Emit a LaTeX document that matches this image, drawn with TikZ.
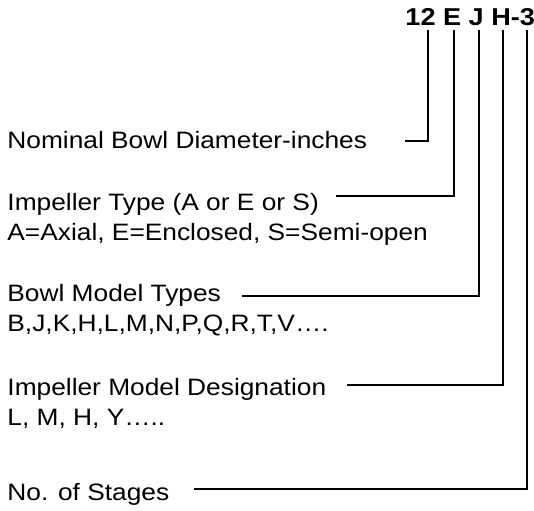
\documentclass[tikz,border=0pt]{standalone}
\usepackage{fontspec}
\setmainfont{Liberation Sans}
\tikzset{
  lbl/.style={anchor=base west, inner sep=0pt, xscale=1.11, font=\fontsize{11.85}{14}\selectfont},
  lead/.style={line width=0.9pt, line cap=rect}
}
\begin{document}
\begin{tikzpicture}[x=0.5pt, y=-0.5pt]
\useasboundingbox (0, 0) rectangle (534, 510);
% model code
\path (405, 25.5) node[lbl, font=\fontsize{12.2}{14}\selectfont\bfseries] (code) {12 E J H-3};
% descriptions
\path (7, 148.5)   node[lbl] (dia)  {Nominal Bowl Diameter-inches}
      (7, 210.7) node[lbl] (imp)  {Impeller Type (A or E or S)}
      (7, 240)   node[lbl] (impx) {A=Axial, E=Enclosed, S=Semi-open}
      (7, 301.7) node[lbl] (bowl) {Bowl Model Types}
      (7, 331.7) node[lbl] (bowlx) {B,J,K,H,L,M,N,P,Q,R,T,V….}
      (7, 395)   node[lbl] (des)  {Impeller Model Designation}
      (7, 425)   node[lbl] (desx) {L, M, H, Y…..}
      (7, 500.7) node[lbl] (stg)  {No. of Stages};
% line ends under the code
\path (427.7, 31) coordinate (c12)
      (454, 31)   coordinate (cE)
      (479.3, 31) coordinate (cJ)
      (503.3, 31) coordinate (cH)
      (527, 31)   coordinate (c3);
% line ends beside the descriptions
\path (406, 140.7)   coordinate (l12)
      (337.3, 195.7) coordinate (lE)
      (242.7, 296)   coordinate (lJ)
      (348.3, 385)   coordinate (lH)
      (195, 488.7)   coordinate (l3);
\draw[lead] (l12) -| (c12)
      (lE) -| (cE)
      (lJ) -| (cJ)
      (lH) -| (cH)
      (l3) -| (c3);
\end{tikzpicture}
\end{document}
